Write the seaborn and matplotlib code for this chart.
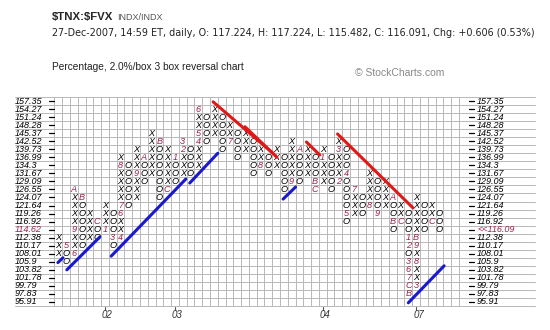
import matplotlib
matplotlib.use("Agg")
import matplotlib.pyplot as plt
import seaborn as sns
import pandas as pd

sns.set_theme(style="white")
plt.rcParams['font.family'] = ['Liberation Sans', 'DejaVu Sans']

# Box scale: 2% boxes from bottom to top
box_labels = ["95.91", "97.83", "99.79", "101.78", "103.82", "105.9", "108.01",
              "110.17", "112.38", "114.62", "116.92", "119.26", "121.64", "124.07",
              "126.55", "129.09", "131.67", "134.3", "136.99", "139.73", "142.52",
              "145.37", "148.28", "151.24", "154.27", "157.35"]
last_price_label = "<<116.09"
last_price_box = 9

# Point & figure columns (even = X, odd = O): lowest and highest box
col_low = [6, 5, 6, 7, 8, 8, 9, 7, 8, 12, 13, 15, 16, 13, 14, 15, 16, 16, 17, 20,
           21, 19, 20, 18, 19, 16, 17, 16, 17, 14, 15, 15, 16, 14, 15, 14, 15, 10, 11, 11,
           12, 11, 12, 9, 10, 1, 2, 9, 10, 9]
col_high = [8, 7, 14, 13, 11, 10, 12, 11, 18, 17, 19, 18, 21, 20, 19, 18, 20, 19, 24, 23,
            24, 23, 22, 21, 21, 20, 19, 18, 19, 18, 20, 19, 19, 18, 19, 18, 20, 19, 14, 13,
            16, 15, 15, 13, 12, 11, 13, 12, 12, 11]

# Month markers (1-9, A=Oct, B=Nov, C=Dec) that replace a box symbol
month_col = [1, 2, 2, 2, 3, 5, 6, 7, 8, 8, 8, 8, 10, 11, 13, 14, 15, 16, 16, 18, 18, 18,
             22, 26, 30, 31, 33, 33, 34, 36, 36, 37, 37, 38, 40, 41, 43, 43, 44,
             45, 45, 45, 45, 45, 45, 45, 46, 46, 46, 46, 48]
month_row = [7, 6, 9, 14, 13, 10, 9, 8, 8, 11, 12, 17, 16, 18, 20, 14, 18, 19, 20, 20, 21, 24,
             20, 17, 15, 19, 15, 14, 18, 15, 19, 16, 11, 14, 12, 11, 13, 10, 10,
             8, 7, 5, 4, 3, 2, 1, 2, 5, 7, 8, 10]
month_char = ["5", "6", "9", "A", "B", "C", "1", "3", "4", "6", "7", "8", "9", "A", "B", "C",
              "1", "2", "3", "4", "5", "6", "7", "8", "9", "A", "B", "C", "1", "2", "3", "4",
              "5", "7", "8", "9", "A", "B", "C", "1", "2", "3", "6", "7", "C", "B", "3", "8",
              "9", "B", "C"]

# Year labels along the bottom
year_col = [6, 15, 34, 46]
year_text = ["02", "03", "04", "07"]

# 45-degree trend lines in box units: (col0, row0, col1, row1)
support_lines = [(-0.05, 4.9, 0.6, 5.5), (1.1, 4.0, 5.35, 8.1), (6.8, 5.7, 16.4, 15.3),
                 (16.9, 14.8, 20.5, 18.5), (28.9, 12.8, 30.5, 14.3), (45.0, -0.1, 49.6, 4.5)]
resistance_lines = [(19.9, 24.9, 27.6, 18.5), (24.0, 21.8, 28.1, 18.0),
                    (31.9, 19.9, 33.6, 18.3), (35.9, 20.9, 45.6, 11.7)]

W, H = 550, 330
fig = plt.figure(figsize=(W / 100, H / 100), dpi=100)
fig.patch.set_facecolor("white")
left, right, top, bottom = 54.4, 466.7, 97.0, 306.0
ax = fig.add_axes([left / W, 1 - bottom / H, (right - left) / W, (bottom - top) / H])
n_cols = 53
ax.set_xlim(-0.5, n_cols - 0.5)
ax.set_ylim(-0.5, len(box_labels) - 0.5)
ax.set_xticks([])
ax.set_yticks([])
for s in ax.spines.values():
    s.set_visible(False)

grid_c = "#b8b8b8"
for c in range(n_cols + 1):
    ax.axvline(c - 0.5, color=grid_c, lw=0.7, zorder=0)
x_from = (15 - left) / (right - left)
x_to = (535 - left) / (right - left)
for r in range(len(box_labels) + 1):
    ax.axhline(r - 0.5, xmin=x_from, xmax=x_to, color=grid_c, lw=0.7, zorder=0, clip_on=False)

mark_color = "#a0204a"
months = {(c, r): ch for c, r, ch in zip(month_col, month_row, month_char)}
for c, (lo, hi) in enumerate(zip(col_low, col_high)):
    sym = "X" if c % 2 == 0 else "O"
    for r in range(lo, hi + 1):
        ch = months.get((c, r))
        ax.text(c, r, ch if ch else sym, ha="center", va="center", fontsize=6.6,
                fontstyle="italic", color=mark_color if ch else "black", zorder=3)

for segs, col in ((support_lines, "#1a1acc"), (resistance_lines, "#e01818")):
    for c0, r0, c1, r1 in segs:
        sns.lineplot(x=[c0, c1], y=[r0, r1], color=col, lw=2.2, ax=ax, zorder=4)

# price scale on both sides
for r, lab in enumerate(box_labels):
    y = 1 - (bottom - (r + 0.5) * (bottom - top) / len(box_labels)) / H
    ax.plot([-1.2, -0.55], [r, r], color="black", lw=0.9, clip_on=False)
    ax.plot([52.8, 53.45], [r, r], color="black", lw=0.9, clip_on=False)
    fig.text(15 / W, y, lab, ha="left", va="center", fontsize=6.5, fontstyle="italic",
             color=mark_color if r == last_price_box else "black")
    rl = last_price_label if r == last_price_box else lab
    fig.text(477 / W, y, rl, ha="left", va="center", fontsize=6.5, fontstyle="italic",
             color=mark_color if r == last_price_box else "black")

for c, t in zip(year_col, year_text):
    ax.plot([c, c], [-0.6, -1.0], color="#555555", lw=0.8, clip_on=False)
    ax.text(c + 0.3, -1.6, t, ha="center", va="center", fontsize=7, fontstyle="italic",
            color="#333333")

fig.text(52 / W, 1 - 17 / H, r"\$TNX:\$FVX", fontsize=8.2, fontweight="bold",
         va="center", ha="left")
fig.text(117 / W, 1 - 17.5 / H, "INDX/INDX", fontsize=6.5, color="#555555",
         va="center", ha="left")
fig.text(52 / W, 1 - 32.5 / H,
         "27-Dec-2007, 14:59 ET, daily, O: 117.224, H: 117.224, L: 115.482, C: 116.091, Chg: +0.606 (0.53%)",
         fontsize=6.95, va="center", ha="left", color="#222222", family="DejaVu Sans")
fig.text(52 / W, 1 - 67 / H, "Percentage, 2.0%/box 3 box reversal chart", fontsize=7.3,
         va="center", ha="left", color="#222222")
fig.text(355 / W, 1 - 73 / H, "© StockCharts.com", fontsize=7.5, va="center", ha="left",
         color="#888888")

fig.savefig("out.png", dpi=100, facecolor="white")
